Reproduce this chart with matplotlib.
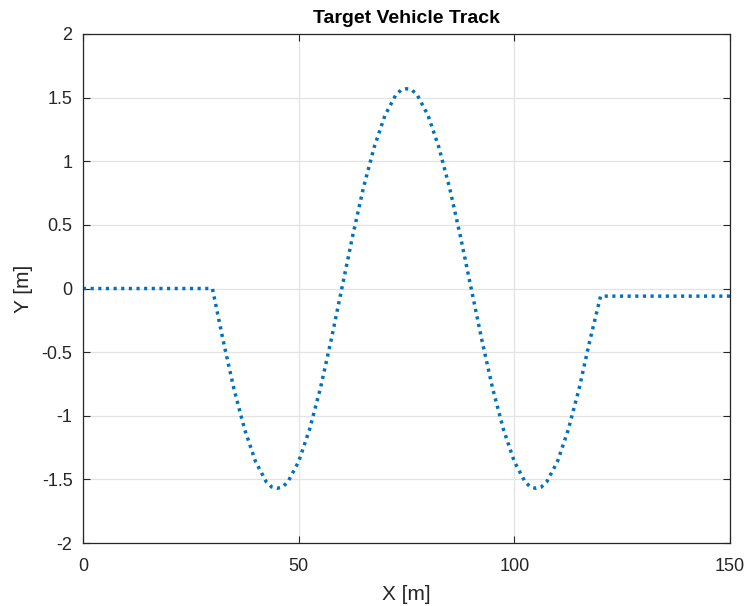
import matplotlib.pyplot as plt
from matplotlib.ticker import FuncFormatter

# track points (x in m, y in m)
x_track = [0, 30, 32.5, 35, 37.5, 40, 42.5, 43.75, 45, 46.25, 47.5, 50, 52.5, 55, 57.5, 60,
           62.5, 65, 67.5, 70, 72.5, 73.75, 75, 76.25, 77.5, 80, 82.5, 85, 87.5, 90,
           92.5, 95, 97.5, 100, 102.5, 103.75, 105, 106.25, 107.5, 110, 112.5, 115, 117.5,
           120, 150]
y_track = [0, 0, -0.41, -0.79, -1.11, -1.36, -1.52, -1.56, -1.57, -1.56, -1.52, -1.36, -1.11,
           -0.79, -0.41, 0,
           0.41, 0.79, 1.11, 1.36, 1.52, 1.56, 1.57, 1.56, 1.52, 1.36, 1.11, 0.79, 0.41, 0,
           -0.41, -0.79, -1.11, -1.36, -1.52, -1.56, -1.57, -1.56, -1.52, -1.36, -1.11, -0.79,
           -0.41, -0.06, -0.06]

x_ticks = [0, 50, 100, 150]
y_ticks = [-2, -1.5, -1, -0.5, 0, 0.5, 1, 1.5, 2]

plt.rcParams["font.family"] = ["Liberation Sans", "DejaVu Sans"]
plt.rcParams["axes.unicode_minus"] = False
dark = "#262626"

fig = plt.figure(figsize=(7.47, 6.06), dpi=100)
ax = fig.add_axes([83 / 747, 1 - 543 / 606, 647 / 747, 509 / 606])

ax.plot(x_track, y_track, color="#0072BD", lw=2.5,
        linestyle=(0, (0.9, 1.3)), dash_capstyle="butt")

ax.set_xlim(0, 150)
ax.set_ylim(-2, 2)
ax.set_xticks(x_ticks)
ax.set_yticks(y_ticks)
ax.yaxis.set_major_formatter(FuncFormatter(lambda v, p: f"{v:g}"))
ax.grid(True, color="#e3e3e3", lw=0.9)
ax.set_axisbelow(True)
ax.tick_params(direction="in", length=5, width=0.8, colors=dark,
               labelsize=13, top=True, right=True)
ax.tick_params(axis="x", pad=11)
ax.tick_params(axis="y", pad=7.5)
for s in ax.spines.values():
    s.set_color(dark)
    s.set_linewidth(0.9)

ax.set_xlabel("X [m]", fontsize=15, color=dark, labelpad=7)
ax.set_ylabel("Y [m]", fontsize=15, color=dark, labelpad=6)
ax.set_title("Target Vehicle Track", fontsize=14, fontweight="bold", color="black", pad=8)

fig.savefig("out.png", dpi=100)
